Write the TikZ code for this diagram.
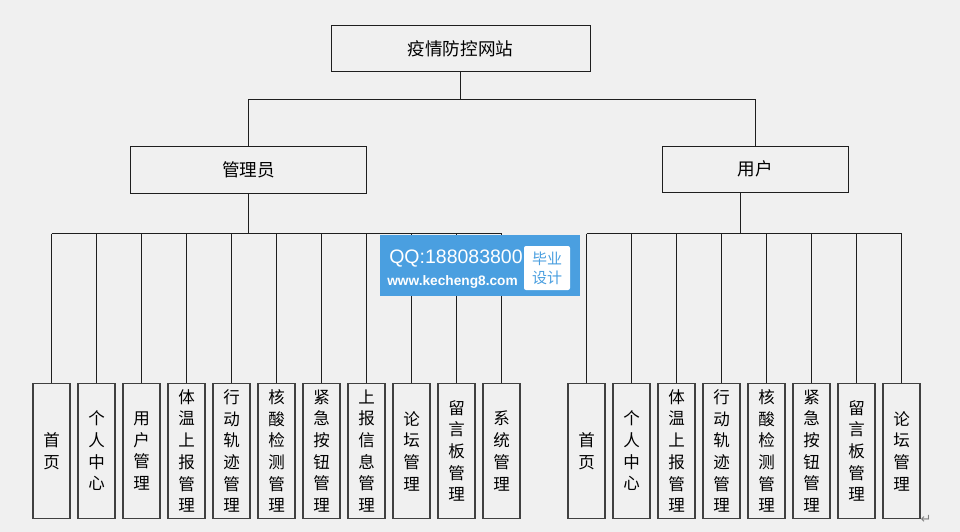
\documentclass[tikz,border=0pt]{standalone}
\usepackage{fontspec}
\setmainfont{Liberation Sans}
\newfontfamily\cjk{Noto Sans CJK SC}
\newfontfamily\arrowfont{DejaVu Sans}
\definecolor{pagegray}{HTML}{F0F0F0}
\definecolor{linegray}{HTML}{1E1E1E}
\definecolor{wmblue}{HTML}{4A9FE0}
\tikzset{
    headbox/.style={draw=linegray,line width=1pt,inner sep=0pt,font=\cjk\fontsize{17.6}{20}\selectfont},
    leafbox/.style={draw=linegray!85,line width=1.2pt,inner sep=0pt,minimum width=37pt,minimum height=135pt,
        align=center,font=\cjk\fontsize{16.5}{21.7}\selectfont},
    conn/.style={draw=linegray,line width=1pt}
}
\begin{document}
\begin{tikzpicture}[x=1pt,y=-1pt]
\fill[pagegray](0,0)rectangle(960,532);
\useasboundingbox(0,0)rectangle(960,532);

\node[headbox,minimum width=259pt,minimum height=46pt](site)at(460.5,49){疫情防控网站};
\node[headbox,minimum width=236pt,minimum height=47pt](admin)at(248.5,169.5){管理员};
\node[headbox,minimum width=186pt,minimum height=46pt](user)at(755.5,169){用户};

\coordinate(mbus)at(460.5,99.5);
\coordinate(abus)at(248.5,233.5);
\coordinate(ubus)at(740.5,233.5);
\coordinate(udrop)at(740.5,192);

\draw[conn](site.south)--(mbus);
\draw[conn](admin.north)|-(mbus);
\draw[conn](user.north)|-(mbus);

\node[leafbox](a1)at(51.5,451){首\\页};
\node[leafbox](a2)at(96.5,451){个\\人\\中\\心};
\node[leafbox](a3)at(141.5,451){用\\户\\管\\理};
\node[leafbox](a4)at(186.5,451){体\\温\\上\\报\\管\\理};
\node[leafbox](a5)at(231.5,451){行\\动\\轨\\迹\\管\\理};
\node[leafbox](a6)at(276.5,451){核\\酸\\检\\测\\管\\理};
\node[leafbox](a7)at(321.5,451){紧\\急\\按\\钮\\管\\理};
\node[leafbox](a8)at(366.5,451){上\\报\\信\\息\\管\\理};
\node[leafbox](a9)at(411.5,451){论\\坛\\管\\理};
\node[leafbox](a10)at(456.5,451){留\\言\\板\\管\\理};
\node[leafbox](a11)at(501.5,451){系\\统\\管\\理};

\node[leafbox](u1)at(586.5,451){首\\页};
\node[leafbox](u2)at(631.5,451){个\\人\\中\\心};
\node[leafbox](u3)at(676.5,451){体\\温\\上\\报\\管\\理};
\node[leafbox](u4)at(721.5,451){行\\动\\轨\\迹\\管\\理};
\node[leafbox](u5)at(766.5,451){核\\酸\\检\\测\\管\\理};
\node[leafbox](u6)at(811.5,451){紧\\急\\按\\钮\\管\\理};
\node[leafbox](u7)at(856.5,451){留\\言\\板\\管\\理};
\node[leafbox](u8)at(901.5,451){论\\坛\\管\\理};

\draw[conn](admin.south)--(abus);
\draw[conn](udrop)--(ubus);
\draw[conn](a1.north|-abus)--(a11.north|-abus);
\draw[conn](u1.north|-ubus)--(u8.north|-ubus);

\draw[conn](a1.north|-abus)--(a1.north);
\draw[conn](a2.north|-abus)--(a2.north);
\draw[conn](a3.north|-abus)--(a3.north);
\draw[conn](a4.north|-abus)--(a4.north);
\draw[conn](a5.north|-abus)--(a5.north);
\draw[conn](a6.north|-abus)--(a6.north);
\draw[conn](a7.north|-abus)--(a7.north);
\draw[conn](a8.north|-abus)--(a8.north);
\draw[conn](a9.north|-abus)--(a9.north);
\draw[conn](a10.north|-abus)--(a10.north);
\draw[conn](a11.north|-abus)--(a11.north);

\draw[conn](u1.north|-ubus)--(u1.north);
\draw[conn](u2.north|-ubus)--(u2.north);
\draw[conn](u3.north|-ubus)--(u3.north);
\draw[conn](u4.north|-ubus)--(u4.north);
\draw[conn](u5.north|-ubus)--(u5.north);
\draw[conn](u6.north|-ubus)--(u6.north);
\draw[conn](u7.north|-ubus)--(u7.north);
\draw[conn](u8.north|-ubus)--(u8.north);

\node[fill=wmblue,inner sep=0pt,minimum width=200pt,minimum height=61pt](wm)at(480,265.5){};
\node[text=white,inner sep=0pt,font=\fontsize{19.5}{20}\selectfont](qq)at(456,259){QQ:188083800};
\node[text=white,inner sep=0pt,font=\bfseries\fontsize{13.7}{16}\selectfont](web)at(452.5,282){www.kecheng8.com};
\node[fill=white,text=wmblue,rounded corners=2pt,inner sep=0pt,minimum width=46pt,minimum height=44pt,align=center,
    font=\cjk\fontsize{15}{19}\selectfont](badge)at(547,268){毕业\\设计};

\node[text=gray,inner sep=0pt,font=\arrowfont\fontsize{13}{14}\selectfont](retmark)at(926,519){↵};
\end{tikzpicture}
\end{document}
